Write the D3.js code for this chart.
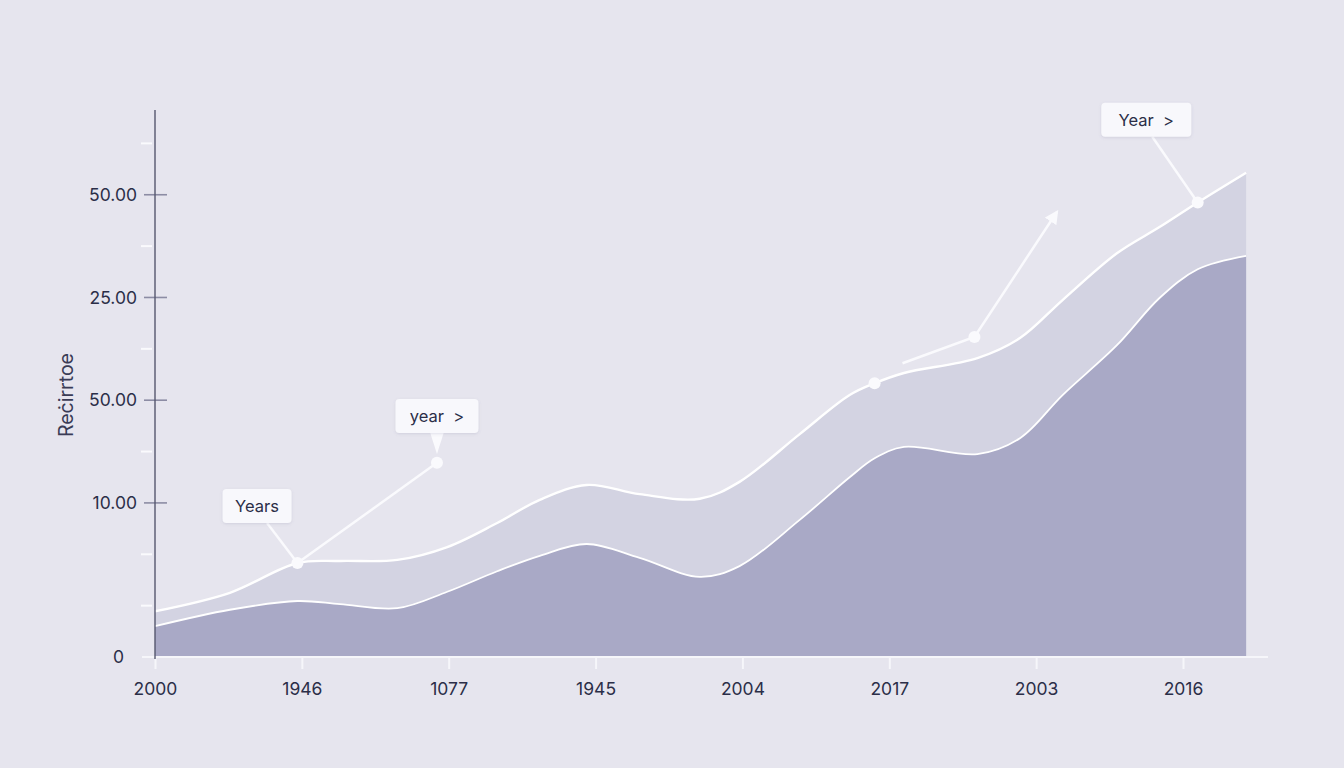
<!DOCTYPE html>
<html>
<head>
<meta charset="utf-8">
<script src="https://cdn.jsdelivr.net/npm/d3@7"></script>
<style>
  html, body { margin: 0; padding: 0; background: #e6e5ee; }
  svg { display: block; font-family: Inter, "Noto Sans", sans-serif; }
  text { white-space: pre; }
</style>
</head>
<body>
<svg width="1344" height="768"></svg>
<script>
"use strict";

// x categories (tick labels) at integer positions 0..7
const xLabels = ["2000", "1946", "1077", "1945", "2004", "2017", "2003", "2016"];

// sample positions along the x axis (in category units)
const xPos = [0, 0.51, 0.97, 1.26, 1.65, 1.99, 2.33, 2.62, 2.94, 3.30, 3.71, 3.98,
              4.39, 4.73, 4.90, 5.10, 5.60, 5.89, 6.18, 6.55, 6.84, 7.10, 7.43];

// stacked series values
const lowerSeries = [6.0, 9.2, 10.9, 10.3, 9.5, 12.7, 16.7, 19.7, 22.0, 19.3, 15.6, 17.7,
                     26.7, 35.0, 38.7, 40.9, 39.5, 42.6, 51.0, 60.7, 69.9, 75.5, 78.1];
const upperSeries = [2.9, 3.3, 7.4, 8.4, 9.4, 8.7, 9.4, 10.9, 11.5, 12.4, 15.2, 16.4,
                     16.7, 16.0, 14.6, 14.4, 18.7, 19.5, 18.5, 17.9, 13.8, 13.0, 16.2];

// y ticks
const yMajorTicks = [0, 30, 50, 70, 90];
const yMajorLabels = ["0", "10.00", "50.00", "25.00", "50.00"];
const yMinorTicks = [10, 20, 40, 60, 80, 100];
const yLabel = "Reċirrtoe";

// annotations (positions in data units)
const callouts = [
    { text: "Years", x: 0.695, y: 29.4, w: 69, pointer: 2 },
    { text: "year  >", x: 1.92, y: 46.9, w: 83, pointer: -1 },
    { text: "Year  >", x: 6.75, y: 104.6, w: 90, pointer: 21 }
];
const looseDots = [[1.92, 37.8], [5.58, 62.3]];
const arrowPath = [[5.09, 57.2], [5.58, 62.3], [6.14, 86.6]];

const svg = d3.select("svg");

const x = d3.scaleLinear().domain([0, 7]).range([155, 1183]);
const y = d3.scaleLinear().domain([0, 106.5]).range([657, 110]);

const rows = xPos.map((t, i) => ({ t: t, lower: lowerSeries[i], upper: upperSeries[i] }));
const stacked = d3.stack().keys(["lower", "upper"])(rows);

const fills = ["#a9a9c6", "#d3d3e2"];
const strokeW = [1.8, 2.4];
const curve = d3.curveCatmullRom.alpha(0.5);

const area = d3.area()
    .x(d => x(d.data.t))
    .y0(d => y(d[0]))
    .y1(d => y(d[1]))
    .curve(curve);

const topLine = d3.line()
    .x(d => x(d.data.t))
    .y(d => y(d[1]))
    .curve(curve);

// draw upper layer first so the lower sits on top
[1, 0].forEach(k => {
    svg.append("path")
        .datum(stacked[k])
        .attr("d", area)
        .attr("fill", fills[k]);
});
[0, 1].forEach(k => {
    svg.append("path")
        .datum(stacked[k])
        .attr("d", topLine)
        .attr("fill", "none")
        .attr("stroke", "#ffffff")
        .attr("stroke-width", strokeW[k]);
});

// x axis
const xAxis = svg.append("g")
    .attr("class", "x_axis")
    .attr("transform", `translate(0, ${y(0)})`)
    .call(d3.axisBottom(x)
        .tickValues(d3.range(xLabels.length))
        .tickFormat(i => xLabels[i])
        .tickSize(12)
        .tickPadding(14));
xAxis.select(".domain").remove();
xAxis.insert("line", ":first-child")
    .attr("x1", 142).attr("x2", 1268)
    .attr("stroke", "#f6f6fa").attr("stroke-width", 2);
xAxis.selectAll(".tick line").attr("stroke", "#f6f6fa").attr("stroke-width", 2);
xAxis.selectAll(".tick text")
    .attr("fill", "#2b2e48")
    .attr("font-size", 17.5)
    .attr("font-family", "Inter, 'Noto Sans', sans-serif");

// y axis
const yAxis = svg.append("g")
    .attr("class", "y_axis")
    .attr("transform", `translate(${x(0)}, 0)`);

yAxis.selectAll("line.minor")
    .data(yMinorTicks)
    .enter()
    .append("line")
    .attr("class", "minor")
    .attr("x1", -14).attr("x2", -3)
    .attr("y1", d => y(d)).attr("y2", d => y(d))
    .attr("stroke", "#fafafd").attr("stroke-width", 2);

yAxis.selectAll("line.major")
    .data(yMajorTicks.filter(d => d > 0))
    .enter()
    .append("line")
    .attr("class", "major")
    .attr("x1", -11).attr("x2", 12)
    .attr("y1", d => y(d)).attr("y2", d => y(d))
    .attr("stroke", "#8c8ca4").attr("stroke-width", 1.6);

yAxis.append("line")
    .attr("y1", y.range()[1]).attr("y2", y(0) + 2)
    .attr("stroke", "#55576e").attr("stroke-width", 1.4);

yAxis.selectAll("text.ylab")
    .data(yMajorTicks)
    .enter()
    .append("text")
    .attr("class", "ylab")
    .attr("x", d => d === 0 ? -31 : -18)
    .attr("y", d => y(d))
    .attr("dy", "0.35em")
    .attr("text-anchor", "end")
    .attr("font-size", 17.5)
    .attr("fill", "#2b2e48")
    .text((d, i) => yMajorLabels[i]);

svg.append("text")
    .attr("transform", `translate(66, ${y(51)}) rotate(-90)`)
    .attr("text-anchor", "middle")
    .attr("dy", "0.35em")
    .attr("font-size", 19.5)
    .attr("fill", "#3a3c56")
    .text(yLabel);

// annotations
const defs = svg.append("defs");
const shadow = defs.append("filter").attr("id", "shadow")
    .attr("x", "-20%").attr("y", "-30%").attr("width", "140%").attr("height", "160%");
shadow.append("feDropShadow")
    .attr("dx", 0).attr("dy", 1).attr("stdDeviation", 1.5)
    .attr("flood-color", "#6a6a90").attr("flood-opacity", 0.18);

defs.append("marker")
    .attr("id", "arrowhead")
    .attr("viewBox", "0 0 10 10")
    .attr("refX", 8).attr("refY", 5)
    .attr("markerWidth", 5.5).attr("markerHeight", 5.5)
    .attr("orient", "auto")
    .append("path")
    .attr("d", "M0,0 L10,5 L0,10 Z")
    .attr("fill", "#fafafd");

const ann = svg.append("g").attr("class", "annotations");
const white = "#fafafd";
const topLayer = stacked[1];

// connector between first callout dot and the loose dot
ann.append("line")
    .attr("x1", x(topLayer[2].data.t)).attr("y1", y(topLayer[2][1]))
    .attr("x2", x(looseDots[0][0])).attr("y2", y(looseDots[0][1]))
    .attr("stroke", white).attr("stroke-width", 2.5);

// arrow
ann.append("path")
    .attr("d", d3.line().x(d => x(d[0])).y(d => y(d[1]))(arrowPath))
    .attr("fill", "none")
    .attr("stroke", white).attr("stroke-width", 2.5)
    .attr("marker-end", "url(#arrowhead)");

// callout pointers
callouts.filter(c => c.pointer >= 0).forEach(c => {
    ann.append("line")
        .attr("x1", x(c.x) + (c.pointer === 2 ? 10 : 6))
        .attr("y1", y(c.y) + 17)
        .attr("x2", x(topLayer[c.pointer].data.t))
        .attr("y2", y(topLayer[c.pointer][1]))
        .attr("stroke", white).attr("stroke-width", 2.5);
});

// dots
const dotPts = [[topLayer[2].data.t, topLayer[2][1]], looseDots[0], [topLayer[14].data.t, topLayer[14][1]],
                looseDots[1], [topLayer[21].data.t, topLayer[21][1]]];
ann.selectAll("circle")
    .data(dotPts)
    .enter()
    .append("circle")
    .attr("cx", d => x(d[0]))
    .attr("cy", d => y(d[1]))
    .attr("r", 6)
    .attr("fill", white);

// boxes
callouts.forEach(c => {
    const g = ann.append("g").attr("transform", `translate(${x(c.x)}, ${y(c.y)})`);
    if (c.pointer < 0) {
        g.append("path")
            .attr("d", "M-7,16 L7,16 L0,38 Z")
            .attr("fill", white);
    }
    g.append("rect")
        .attr("x", -c.w / 2).attr("y", -17)
        .attr("width", c.w).attr("height", 34)
        .attr("rx", 4)
        .attr("fill", "#f8f8fc")
        .attr("filter", "url(#shadow)");
    g.append("text")
        .attr("text-anchor", "middle")
        .attr("dy", "0.35em")
        .attr("font-size", 16.5)
        .attr("fill", "#2b2e48")
        .text(c.text);
});
</script>
</body>
</html>
